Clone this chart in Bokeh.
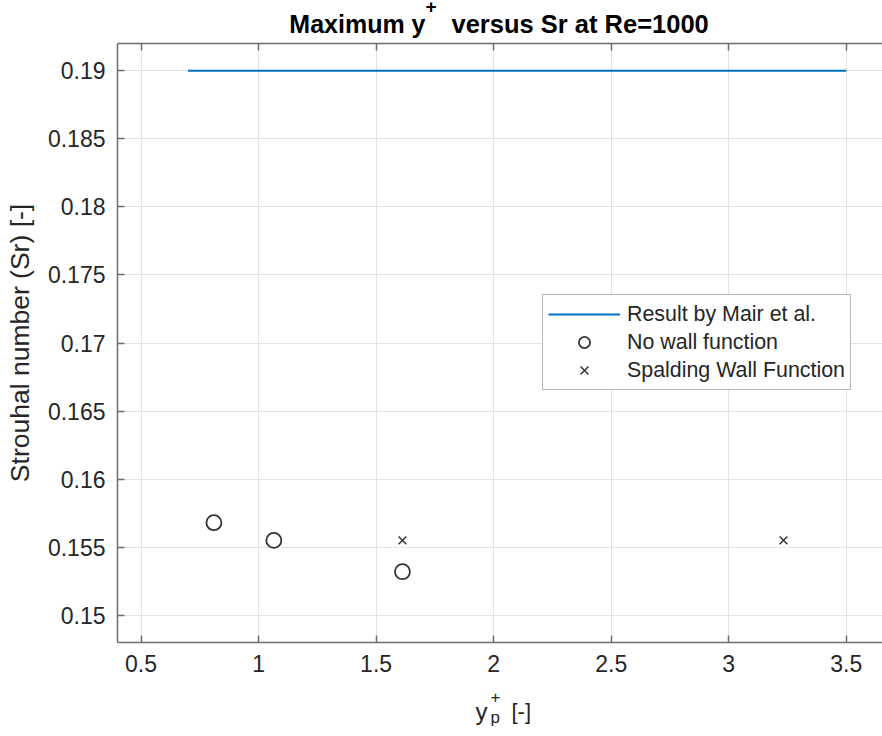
from bokeh.plotting import figure
from bokeh.layouts import column
from bokeh.models import (Range1d, FixedTicker, CustomJSTickFormatter, LinearAxis,
                          Label, Legend, LegendItem, Grid)
from bokeh.embed import file_html
from bokeh.resources import INLINE

# ---- data ----
ref_x = [0.7, 3.5]
ref_y = [0.19, 0.19]
nowall_x = [0.81, 1.065, 1.612]
nowall_y = [0.1568, 0.1555, 0.1532]
spalding_x = [1.612, 3.233]
spalding_y = [0.1555, 0.1555]

x_ticks = [0.5, 1.0, 1.5, 2.0, 2.5, 3.0, 3.5]
x_tick_labels = ["0.5", "1", "1.5", "2", "2.5", "3", "3.5"]
y_ticks = [0.15, 0.155, 0.16, 0.165, 0.17, 0.175, 0.18, 0.185, 0.19]
y_tick_labels = ["0.15", "0.155", "0.16", "0.165", "0.17", "0.175", "0.18", "0.185", "0.19"]

title_main = "Maximum y"
title_sup = "+"
title_rest = "versus Sr at Re=1000"
xlabel_main = "y"
xlabel_sub = "p"
xlabel_sup = "+"
xlabel_unit = "[-]"
ylabel = "Strouhal number (Sr) [-]"
legend_labels = ["Result by Mair et al.", "No wall function", "Spalding Wall Function"]

# ---- layout ----
W, H = 882, 736
TH = 39                      # title strip height
XH = 46                      # x-label strip height
FL, FT, FB = 117, 43, 642    # frame left/top/bottom in page pixels
MH = H - TH - XH             # main figure height
X0, XPX = 0.4, 235.1         # x start, px per unit
Y0, Y1 = 0.148, 0.192
X1 = X0 + (W - FL) / XPX
DY = 9                       # baseline correction of the svg text renderer

FONT = "Liberation Sans"
TXT = "#262626"
AX = "#6e6e6e"


def strip(height, top):
    # frames of a column are aligned to the main frame (FL..W), so data == page px
    f = figure(width=W, height=height, output_backend="svg", toolbar_location=None,
               title=None, x_range=Range1d(FL, W), y_range=Range1d(top + height, top),
               min_border=0, min_border_left=FL, x_axis_type=None, y_axis_type=None)
    f.outline_line_color = None
    f.xgrid.visible = False
    f.ygrid.visible = False
    return f


def add_text(f, px, py, text, size, align="left", bold=False, color=TXT):
    f.add_layout(Label(x=px, y=py - DY, text=text, text_align=align,
                       text_baseline="alphabetic", text_font=FONT, text_font_size=size,
                       text_font_style="bold" if bold else "normal", text_color=color))


# ---- title strip ----
pt = strip(TH, 0)
add_text(pt, 425, 32, title_main, "25px", align="right", bold=True, color="black")
add_text(pt, 425, 15, title_sup, "19px", bold=True, color="black")
add_text(pt, 451, 32, title_rest, "25.5px", bold=True, color="black")

# ---- main plot ----
p = figure(width=W, height=MH, output_backend="svg", toolbar_location=None, title=None,
           x_range=Range1d(X0, X1), y_range=Range1d(Y0, Y1),
           min_border_left=FL, min_border_right=0, min_border_top=FT - TH,
           min_border_bottom=(H - XH) - FB, x_axis_type=None, y_axis_type=None)
p.outline_line_color = None
p.background_fill_color = "white"
p.border_fill_color = "white"


def fmt(ticks, labels):
    return CustomJSTickFormatter(args=dict(t=ticks, l=labels), code="""
        let b = 0;
        for (let i = 0; i < t.length; i++) {
            if (Math.abs(t[i] - tick) < Math.abs(t[b] - tick)) b = i;
        }
        return l[b];
    """)


def style_axis(ax, show_labels=True):
    ax.axis_line_color = AX
    ax.axis_line_width = 1.5
    ax.major_tick_line_color = AX
    ax.major_tick_line_width = 1.5
    ax.major_tick_in = 7
    ax.major_tick_out = 0
    ax.minor_tick_line_color = None
    ax.minor_tick_out = 0
    ax.minor_tick_in = 0
    ax.major_label_text_font = FONT
    ax.major_label_text_font_size = "23px" if show_labels else "0px"
    ax.major_label_text_color = TXT
    ax.major_label_standoff = 12


xaxis = LinearAxis(ticker=FixedTicker(ticks=x_ticks), formatter=fmt(x_ticks, x_tick_labels))
style_axis(xaxis)
p.add_layout(xaxis, "below")

yaxis = LinearAxis(ticker=FixedTicker(ticks=y_ticks), formatter=fmt(y_ticks, y_tick_labels),
                   axis_label=ylabel)
style_axis(yaxis)
yaxis.axis_label_text_font = FONT
yaxis.axis_label_text_font_size = "26.5px"
yaxis.axis_label_text_font_style = "normal"
yaxis.axis_label_text_color = TXT
yaxis.axis_label_standoff = 10
p.add_layout(yaxis, "left")

top_axis = LinearAxis(ticker=FixedTicker(ticks=x_ticks), formatter=fmt(x_ticks, x_tick_labels))
style_axis(top_axis, show_labels=False)
top_axis.major_label_standoff = 0
p.add_layout(top_axis, "above")

p.add_layout(Grid(dimension=0, ticker=FixedTicker(ticks=x_ticks), grid_line_color="#e3e3e3",
                  grid_line_width=1))
p.add_layout(Grid(dimension=1, ticker=FixedTicker(ticks=y_ticks), grid_line_color="#e3e3e3",
                  grid_line_width=1))

r_line = p.line(ref_x, ref_y, line_color="#0072BD", line_width=1.8)
r_circ = p.scatter(nowall_x, nowall_y, marker="circle", size=15, fill_color=None,
                   line_color="#333333", line_width=1.8)
r_x = p.scatter(spalding_x, spalding_y, marker="x", size=11, line_color="#333333",
                line_width=1.5)

legend = Legend(items=[LegendItem(label=legend_labels[0], renderers=[r_line]),
                       LegendItem(label=legend_labels[1], renderers=[r_circ]),
                       LegendItem(label=legend_labels[2], renderers=[r_x])],
                location=(425, 252))
legend.label_text_font = FONT
legend.label_text_font_size = "21.4px"
legend.label_text_color = TXT
legend.glyph_width = 72
legend.glyph_height = 28
legend.label_height = 28
legend.label_standoff = 7
legend.spacing = 0
legend.padding = 5
legend.margin = 0
legend.border_line_color = AX
legend.border_line_width = 1.2
legend.background_fill_color = "white"
legend.background_fill_alpha = 1
p.add_layout(legend, "center")

# ---- x-label strip ----
pb = strip(XH, H - XH)
add_text(pb, 475, 719.5, xlabel_main, "24px")
add_text(pb, 490, 726, xlabel_sub, "17px")
add_text(pb, 490, 705.5, xlabel_sup, "17px")
add_text(pb, 511, 719.5, xlabel_unit, "22px")

layout = column(pt, p, pb, spacing=0)
open("out.html", "w").write(file_html(layout, INLINE))
